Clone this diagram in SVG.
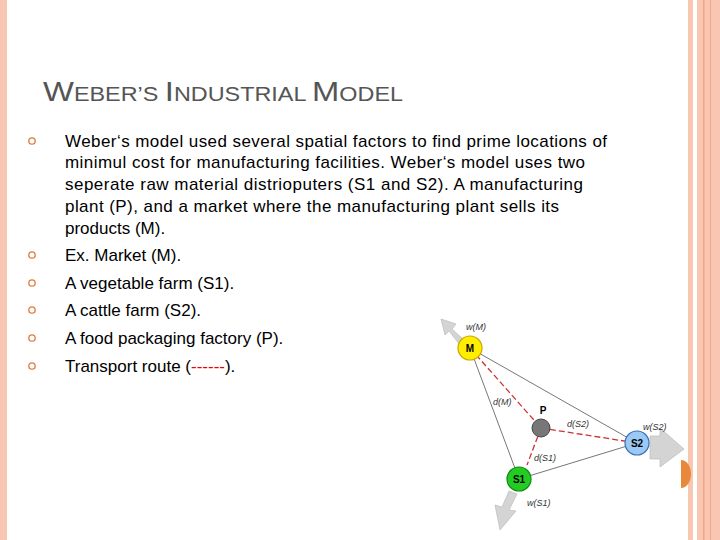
<svg xmlns="http://www.w3.org/2000/svg" width="720" height="540" viewBox="0 0 720 540">
<style>
.t{font-family:"Liberation Sans",Arial,sans-serif;font-size:17px;fill:#000}
.b{fill:none;stroke:#E07B39;stroke-width:1.3}
.s{font-family:"Liberation Sans",Arial,sans-serif;font-size:9px;font-style:italic;fill:#333}
.n{font-family:"Liberation Sans",Arial,sans-serif;font-size:10px;font-weight:bold;fill:#000;text-anchor:middle}
.arr{fill:#d4d4d4;stroke:#bbb;stroke-width:0.7}
</style>
<rect width="720" height="540" fill="#fff"/>
<rect x="0" y="0" width="7" height="540" fill="#F9C6B2"/>
<rect x="688" y="0" width="5" height="540" fill="#F9C6B2"/>
<rect x="697" y="0" width="23" height="540" fill="#F9C6B2"/>
<rect x="703" y="0" width="1.5" height="540" fill="#F0A888"/>
<rect x="710" y="0" width="1" height="540" fill="#F0A888"/>
<text x="43" y="101" font-family="Liberation Sans,Arial,sans-serif" fill="#555" font-size="28" textLength="360" lengthAdjust="spacingAndGlyphs">W<tspan font-size="20">EBER’S </tspan>I<tspan font-size="20">NDUSTRIAL </tspan>M<tspan font-size="20">ODEL</tspan></text>
<g>
<circle class="b" cx="32" cy="141" r="3.2"/><circle class="b" cx="32" cy="255" r="3.2"/><circle class="b" cx="32" cy="283" r="3.2"/><circle class="b" cx="32" cy="310" r="3.2"/><circle class="b" cx="32" cy="338" r="3.2"/><circle class="b" cx="32" cy="366" r="3.2"/>
<text class="t" x="65" y="147" textLength="542">Weber‘s model used several spatial factors to find prime locations of</text>
<text class="t" x="65" y="168" textLength="520">minimul cost for manufacturing facilities. Weber‘s model uses two</text>
<text class="t" x="65" y="190" textLength="518">seperate raw material distrioputers (S1 and S2). A manufacturing</text>
<text class="t" x="65" y="212" textLength="494">plant (P), and a market where the manufacturing plant sells its</text>
<text class="t" x="65" y="234">products (M).</text>
<text class="t" x="65" y="261">Ex. Market (M).</text>
<text class="t" x="65" y="289">A vegetable farm (S1).</text>
<text class="t" x="65" y="316">A cattle farm (S2).</text>
<text class="t" x="65" y="344">A  food packaging factory (P).</text>
<text class="t" x="65" y="372">Transport route (<tspan fill="#e00">------</tspan>).</text>
</g>
<g id="arrows">
<polygon class="arr" points="465,341 452,329 456,324 441,319 445,335 449,331 460,345"/>
<polygon class="arr" points="650,436 660,436 660,428 684,449 660,467 660,459 650,459"/>
<polygon class="arr" points="509,491 502,507 495,505 500,530 516,511 509,510 517,494"/>
</g>
<g id="connectors">
<line x1="470" y1="348" x2="637" y2="443" stroke="#777" stroke-width="1"/>
<line x1="470" y1="348" x2="519" y2="479" stroke="#777" stroke-width="1"/>
<line x1="519" y1="479" x2="637" y2="443" stroke="#777" stroke-width="1"/>
<line x1="470" y1="348" x2="541" y2="428" stroke="#c33" stroke-width="1.3" stroke-dasharray="6,3"/>
<line x1="541" y1="428" x2="637" y2="443" stroke="#c33" stroke-width="1.3" stroke-dasharray="6,3"/>
<line x1="541" y1="428" x2="527" y2="465" stroke="#c33" stroke-width="1.3" stroke-dasharray="6,3"/>
</g>
<g id="M"><circle cx="470" cy="348" r="12" fill="#ffee00" stroke="#c9a800" stroke-width="1.2"/><text class="n" x="470" y="352">M</text><text class="s" x="466" y="330">w(M)</text></g>
<g id="P"><circle cx="541" cy="428" r="9" fill="#777" stroke="#444"/><text class="n" x="543" y="414">P</text></g>
<g id="S2"><circle cx="637" cy="443" r="12" fill="#9cc8f5" stroke="#3a6fb0" stroke-width="1.2"/><text class="n" x="637" y="447">S2</text><text class="s" x="643" y="430">w(S2)</text></g>
<g id="S1"><circle cx="519" cy="479" r="12" fill="#22cc22" stroke="#118811" stroke-width="1.2"/><text class="n" x="519" y="483">S1</text><text class="s" x="527" y="506">w(S1)</text></g>
<g id="labels">
<text class="s" x="493" y="405">d(M)</text>
<text class="s" x="567" y="427">d(S2)</text>
<text class="s" x="534" y="461">d(S1)</text>
</g>
<path d="M681,460 A10,14 0 0 1 681,488 Z" fill="#E8883A"/>
</svg>
